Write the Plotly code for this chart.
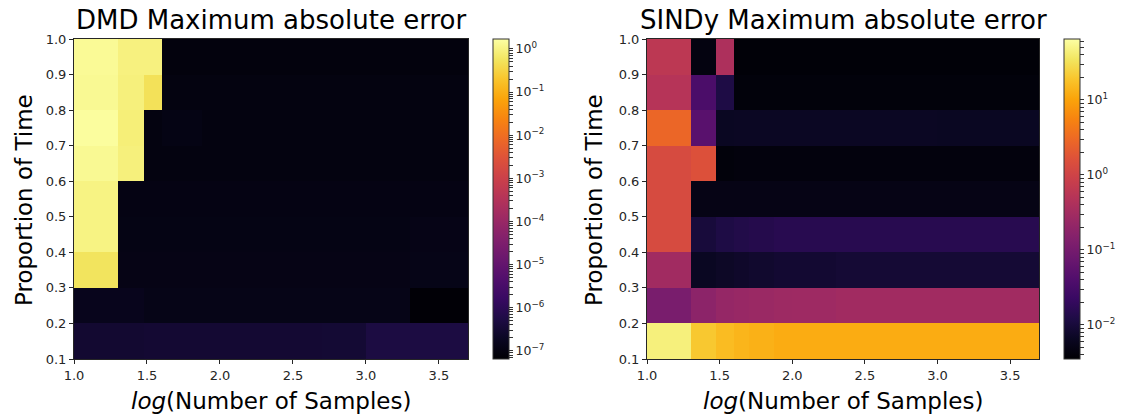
import numpy as np
import plotly.graph_objects as go

# ---------------- data ----------------
sample_edges = [10, 20, 30, 40, 50, 75, 100, 200, 500, 1000, 2000, 5000]
time_edges = [0.1, 0.2, 0.3, 0.4, 0.5, 0.6, 0.7, 0.8, 0.9, 1.0]

# rows: bottom (0.1-0.2) to top (0.9-1.0); columns follow sample_edges cells
dmd_error = [
    [3e-7, 3e-7, 3.2e-7, 3.2e-7, 3.2e-7, 3.2e-7, 3.2e-7, 3.2e-7, 3.3e-7, 5e-7, 5e-7],
    [1.5e-7, 1.5e-7, 1.3e-7, 1.3e-7, 1.3e-7, 1.3e-7, 1.3e-7, 1.3e-7, 1.3e-7, 1.3e-7, 7e-8],
    [0.55, 1.2e-7, 1.2e-7, 1.2e-7, 1.2e-7, 1.2e-7, 1.2e-7, 1.2e-7, 1.2e-7, 1.2e-7, 1.3e-7],
    [1.0, 1.15e-7, 1.15e-7, 1.15e-7, 1.15e-7, 1.15e-7, 1.15e-7, 1.15e-7, 1.15e-7, 1.15e-7, 1.25e-7],
    [1.0, 1.1e-7, 1.1e-7, 1.1e-7, 1.1e-7, 1.1e-7, 1.1e-7, 1.1e-7, 1.1e-7, 1.1e-7, 1.1e-7],
    [1.3, 0.9, 1.0e-7, 1.0e-7, 1.0e-7, 1.0e-7, 1.0e-7, 1.0e-7, 1.0e-7, 1.0e-7, 1.0e-7],
    [1.55, 0.85, 1.0e-7, 1.15e-7, 1.15e-7, 1.0e-7, 1.0e-7, 1.0e-7, 1.0e-7, 1.0e-7, 1.0e-7],
    [1.3, 0.9, 0.5, 1.0e-7, 1.0e-7, 1.0e-7, 1.0e-7, 1.0e-7, 1.0e-7, 1.0e-7, 1.0e-7],
    [1.35, 0.95, 0.95, 9e-8, 9e-8, 9e-8, 9e-8, 9e-8, 9e-8, 9e-8, 9e-8],
]

sindy_error = [
    [45, 20, 16, 14, 13, 12, 12, 12, 12, 12, 12],
    [0.11, 0.18, 0.22, 0.24, 0.25, 0.27, 0.28, 0.3, 0.3, 0.3, 0.3],
    [0.3, 0.0065, 0.007, 0.0075, 0.008, 0.0085, 0.0085, 0.009, 0.009, 0.009, 0.009],
    [1.3, 0.01, 0.012, 0.013, 0.014, 0.015, 0.015, 0.015, 0.015, 0.015, 0.015],
    [1.3, 0.005, 0.005, 0.005, 0.005, 0.005, 0.005, 0.005, 0.005, 0.005, 0.005],
    [1.3, 1.6, 0.004, 0.0042, 0.0042, 0.0042, 0.0042, 0.0042, 0.0042, 0.0042, 0.0042],
    [2.8, 0.05, 0.0065, 0.0066, 0.0066, 0.0066, 0.0066, 0.0066, 0.0066, 0.0065, 0.0065],
    [0.5, 0.035, 0.012, 0.004, 0.004, 0.004, 0.004, 0.004, 0.004, 0.004, 0.004],
    [0.6, 0.0045, 0.4, 0.0038, 0.0038, 0.0038, 0.0038, 0.0038, 0.0038, 0.0038, 0.0038],
]

dmd_limits = [6.5e-8, 1.7]
sindy_limits = [3.5e-3, 65]
dmd_decades = [-7, -6, -5, -4, -3, -2, -1, 0]
sindy_decades = [-2, -1, 0, 1]

x_ticks = [1.0, 1.5, 2.0, 2.5, 3.0, 3.5]
y_ticks = [0.1, 0.2, 0.3, 0.4, 0.5, 0.6, 0.7, 0.8, 0.9, 1.0]

titles = ["DMD Maximum absolute error", "SINDy Maximum absolute error"]
x_label = "<i>log</i>(Number of Samples)"
y_label = "Proportion of Time"

# ---------------- figure ----------------
W, H = 1127, 415
FONT = "DejaVu Sans"
TXT = "#262626"
inferno = [
    [0.0, "#000004"], [0.0625, "#0a0722"], [0.125, "#1e0c45"], [0.1875, "#380962"],
    [0.25, "#510e6c"], [0.3125, "#6a176e"], [0.375, "#82206c"], [0.4375, "#9b2964"],
    [0.5, "#b43359"], [0.5625, "#ca404a"], [0.625, "#dd513a"], [0.6875, "#ed6925"],
    [0.75, "#f78410"], [0.8125, "#fba40a"], [0.875, "#f9c52c"], [0.9375, "#f2e661"],
    [1.0, "#fcffa4"],
]

def sup(n):
    return "10<sup>" + (str(n).replace("-", "\u2212")) + "</sup>"

def colorbar_ticks(decades, lo, hi):
    vals, texts = [], []
    for d in range(decades[0] - 1, decades[-1] + 2):
        for k in range(1, 10):
            v = np.log10(k) + d
            if np.log10(lo) <= v <= np.log10(hi):
                vals.append(v)
                texts.append(sup(d) if k == 1 else "")
    return vals, texts

x_edges = list(np.log10(sample_edges))

fig = go.Figure()

# pixel layout: (plot left, plot right, colorbar left, y-label x)
geom = [(74, 468, 493, 24), (647, 1039, 1064, 594)]
data = [(dmd_error, dmd_limits, dmd_decades), (sindy_error, sindy_limits, sindy_decades)]
top_px, bot_px = 39, 359

for i, ((err, lim, dec), (l, r, cbx, ylx)) in enumerate(zip(data, geom)):
    suffix = "" if i == 0 else "2"
    tv, tt = colorbar_ticks(dec, lim[0], lim[1])
    fig.add_trace(go.Heatmap(
        x=x_edges, y=time_edges, z=np.log10(np.array(err)),
        zmin=np.log10(lim[0]), zmax=np.log10(lim[1]),
        colorscale=inferno, xaxis="x" + suffix, yaxis="y" + suffix,
        hoverinfo="skip",
        colorbar=dict(
            x=cbx / W, xanchor="left", xpad=0, ypad=0,
            y=1 - bot_px / H, yanchor="bottom", len=(bot_px - top_px) / H, lenmode="fraction",
            thickness=16, thicknessmode="pixels",
            outlinewidth=1, outlinecolor="#333333",
            tickmode="array", tickvals=tv, ticktext=tt,
            ticks="outside", ticklen=4, tickwidth=0.8, tickcolor="#333333",
            tickfont=dict(family=FONT, size=12.5, color=TXT),
        ),
    ))
    fig.add_annotation(
        text=titles[i], x=(l + r) / 2 / W, y=1 - 20 / H, xref="paper", yref="paper",
        showarrow=False, xanchor="center", yanchor="middle",
        font=dict(family=FONT, size=26, color="#000000"),
    )
    fig.add_annotation(
        text=x_label, x=(l + r) / 2 / W, y=1 - 401 / H, xref="paper", yref="paper",
        showarrow=False, xanchor="center", yanchor="middle",
        font=dict(family=FONT, size=23, color="#000000"),
    )
    fig.add_annotation(
        text=y_label, x=ylx / W, y=1 - 200 / H, xref="paper", yref="paper",
        showarrow=False, xanchor="center", yanchor="middle", textangle=-90,
        font=dict(family=FONT, size=23, color="#000000"),
    )

axis_common = dict(
    showline=True, mirror=True, linecolor="#262626", linewidth=1,
    ticks="outside", ticklen=4, tickwidth=1, tickcolor="#262626",
    showgrid=False, zeroline=False,
    tickfont=dict(family=FONT, size=13, color=TXT),
)

for i, (l, r, cbx, ylx) in enumerate(geom):
    suffix = "" if i == 0 else "2"
    fig.layout["xaxis" + suffix] = dict(
        axis_common, domain=[l / W, r / W], range=[1.0, np.log10(5000)],
        tickmode="array", tickvals=x_ticks, ticktext=[f"{v:.1f}" for v in x_ticks],
        anchor="y" + suffix,
    )
    fig.layout["yaxis" + suffix] = dict(
        axis_common, domain=[1 - bot_px / H, 1 - top_px / H], range=[0.1, 1.0],
        tickmode="array", tickvals=y_ticks, ticktext=[f"{v:.1f}" for v in y_ticks],
        anchor="x" + suffix,
    )

fig.update_layout(
    width=W, height=H, autosize=False,
    margin=dict(l=0, r=0, t=0, b=0, autoexpand=False),
    paper_bgcolor="white", plot_bgcolor="white",
    showlegend=False,
)

fig.write_html("out.html", config={"displayModeBar": False},
               post_script="document.body.style.margin='0';")
